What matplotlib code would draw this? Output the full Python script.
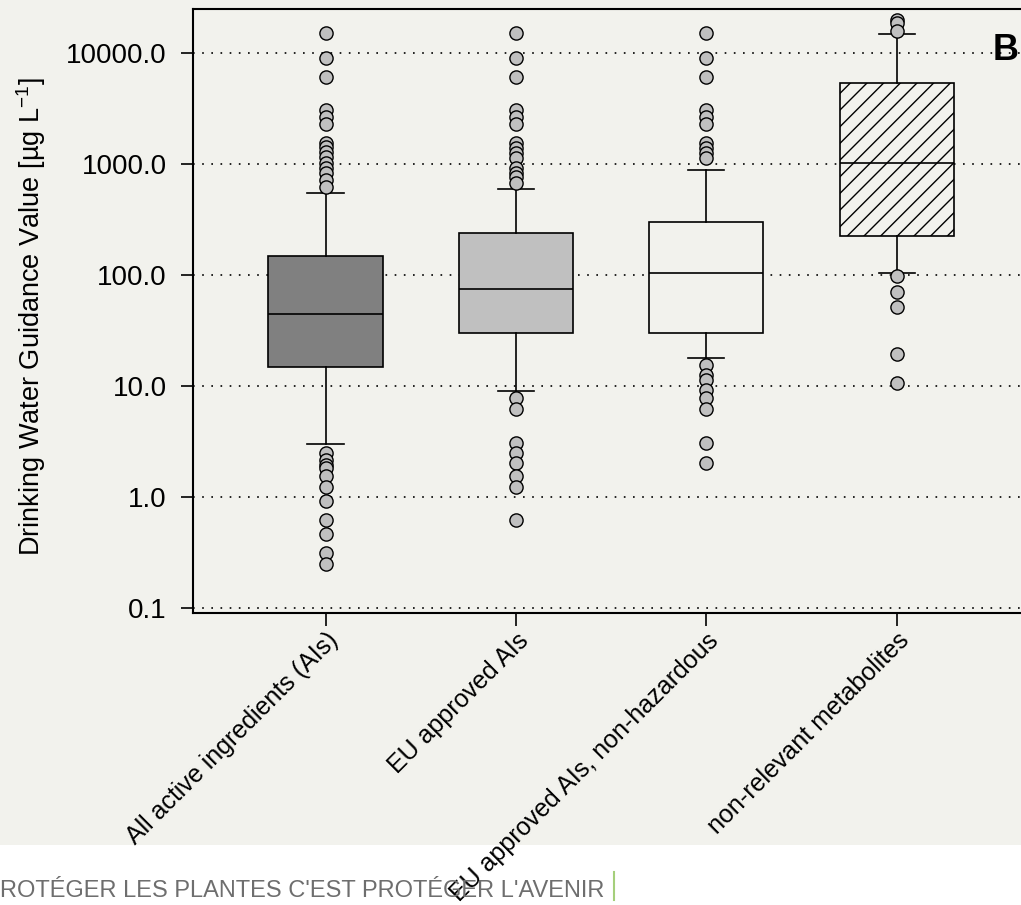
import matplotlib
matplotlib.use("Agg")
import matplotlib.pyplot as plt
from matplotlib.patches import Rectangle
from matplotlib.lines import Line2D
from matplotlib.ticker import FixedLocator, FuncFormatter, NullLocator

plt.rcParams['font.family'] = ['Liberation Sans', 'DejaVu Sans']
plt.rcParams['mathtext.default'] = 'regular'
plt.rcParams['hatch.linewidth'] = 1.0

# ---- data ----
categories = ["All active ingredients (AIs)", "EU approved AIs",
              "EU approved AIs, non-hazardous", "non-relevant metabolites"]
whis_low = [3.0, 9.1, 18.0, 105]
q1 = [14.9, 29.8, 29.8, 223]
median = [44.6, 75.4, 105, 1028]
q3 = [148, 238, 298, 5400]
whis_high = [545, 596, 883, 14830]

outliers_all = [15240, 9070, 6080, 3060, 2650, 2290, 1556, 1432, 1291, 1164,
                1014, 914, 824, 718, 624,
                2.51, 2.15, 1.94, 1.81, 1.55, 1.24, 0.93, 0.62, 0.46, 0.31, 0.25]
outliers_eu = [15240, 9070, 6080, 3060, 2650, 2290, 1556, 1387, 1252, 1133,
               914, 824, 771, 681,
               7.74, 6.17, 3.08, 2.48, 2.01, 1.55, 1.24, 0.62]
outliers_eu_nh = [15240, 9070, 6080, 3060, 2650, 2290, 1556, 1387, 1252, 1133,
                  15.5, 12.6, 11.3, 9.2, 7.74, 6.17, 3.08, 2.01]
outliers_met = [19800, 18550, 15880, 98, 70.7, 51.9, 19.4, 10.7]
outliers = [outliers_all, outliers_eu, outliers_eu_nh, outliers_met]

yticks = [0.1, 1, 10, 100, 1000, 10000]

bg = '#f2f2ed'
box_colors = ['#808080', '#c0c0c0', bg, bg]
box_hatch = [None, None, None, '//']

fig = plt.figure(figsize=(10.21, 9.05), dpi=100, facecolor=bg)
W, H = 1021, 905

# white band at the bottom of the screenshot
fig.add_artist(Rectangle((0, 0), 1, (H - 845) / H, transform=fig.transFigure,
                         facecolor='white', edgecolor='none', zorder=-5))
fig.text(0, (H - 897) / H, "ROTÉGER LES PLANTES C'EST PROTÉGER L'AVENIR",
         fontsize=17, color='#6e6e6e', ha='left', va='baseline')
fig.add_artist(Line2D([614 / W, 614 / W], [(H - 900) / H, (H - 872) / H],
                      transform=fig.transFigure, color='#a5cf7b', lw=1.5))

ax = fig.add_axes([193 / W, (H - 613) / H, (1040 - 193) / W, (613 - 9) / H])
ax.set_facecolor(bg)

stats = []
for i in range(len(categories)):
    stats.append(dict(med=median[i], q1=q1[i], q3=q3[i],
                      whislo=whis_low[i], whishi=whis_high[i],
                      fliers=outliers[i], label=categories[i]))

bp = ax.bxp(stats, positions=[1, 2, 3, 4], widths=0.6, patch_artist=True,
            boxprops=dict(linewidth=1.2, edgecolor='black'),
            medianprops=dict(color='black', linewidth=1.2),
            whiskerprops=dict(color='black', linewidth=1.2),
            capprops=dict(color='black', linewidth=1.2),
            capwidths=0.19,
            flierprops=dict(marker='o', markersize=9.5, markerfacecolor='#c0c0c0',
                            markeredgecolor='black', markeredgewidth=1.0))
for patch, c, h in zip(bp['boxes'], box_colors, box_hatch):
    patch.set_facecolor(c)
    if h:
        patch.set_hatch(h)

ax.set_yscale('log')
ax.set_ylim(0.0902, 24900)
ax.set_xlim(0.3036, 4.7526)
ax.yaxis.set_major_locator(FixedLocator(yticks))
ax.yaxis.set_minor_locator(NullLocator())
ax.yaxis.set_major_formatter(FuncFormatter(lambda v, p: f"{v:.1f}"))
ax.set_axisbelow(True)
ax.yaxis.grid(True, color='black', linestyle=(0, (1, 4.5)), linewidth=1.2)

ax.tick_params(axis='both', direction='out', length=9, width=1.2, color='black')
ax.tick_params(axis='y', labelsize=20, pad=10)
ax.tick_params(axis='x', labelsize=18, pad=2)
ax.set_xticks([1, 2, 3, 4])
ax.set_xticklabels(categories, rotation=45, ha='right', rotation_mode='anchor')
for sp in ax.spines.values():
    sp.set_linewidth(1.5)

ax.set_ylabel("Drinking Water Guidance Value [µg L$^{-1}$]", fontsize=19.5)
ax.yaxis.set_label_coords(-0.171, 0.49)

fig.text(993 / W, (H - 60) / H, "B", fontsize=26, fontweight='bold',
         ha='left', va='baseline')

fig.savefig("out.png", dpi=100, facecolor=bg)
